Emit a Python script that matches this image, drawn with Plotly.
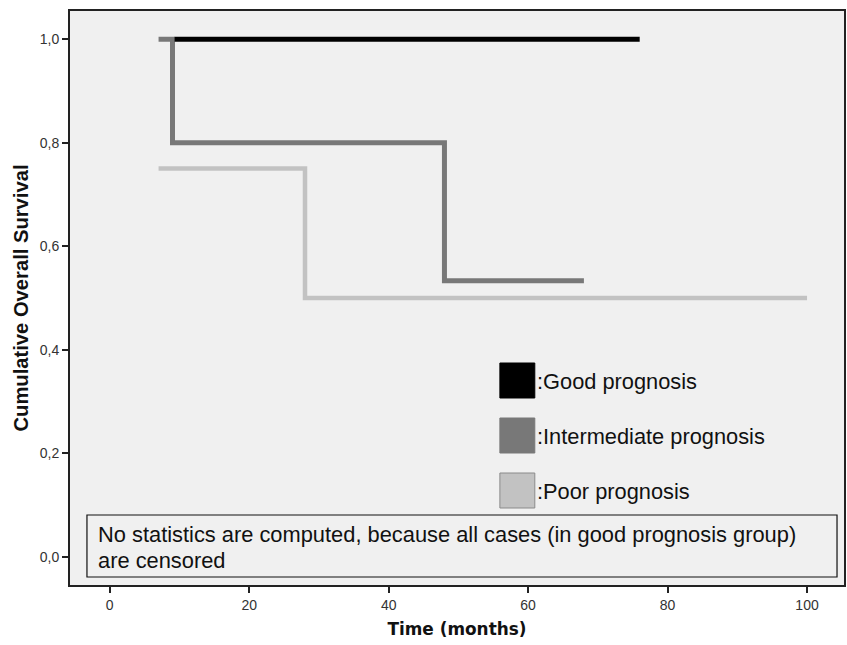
import plotly.graph_objects as go

# Kaplan-Meier step data (time in months, cumulative survival)
good_t = [9.3, 76]
good_s = [1.0, 1.0]

inter_t = [7, 9, 9, 48, 48, 68]
inter_s = [1.0, 1.0, 0.8, 0.8, 0.533, 0.533]

poor_t = [7, 28, 28, 100]
poor_s = [0.75, 0.75, 0.5, 0.5]

y_ticks = [0.0, 0.2, 0.4, 0.6, 0.8, 1.0]
y_ticklabels = ["0,0", "0,2", "0,4", "0,6", "0,8", "1,0"]
x_ticks = [0, 20, 40, 60, 80, 100]

legend_names = [":Good prognosis", ":Intermediate prognosis", ":Poor prognosis"]
legend_colors = ["#000000", "#787878", "#c2c2c2"]

note_lines = ["No statistics are computed, because all cases (in good prognosis group)",
              "are censored"]

fig = go.Figure()
fig.add_trace(go.Scatter(x=poor_t, y=poor_s, mode="lines",
                         line=dict(color="#c2c2c2", width=4.5), showlegend=False))
fig.add_trace(go.Scatter(x=inter_t, y=inter_s, mode="lines",
                         line=dict(color="#787878", width=5), showlegend=False))
fig.add_trace(go.Scatter(x=good_t, y=good_s, mode="lines",
                         line=dict(color="#000000", width=5), showlegend=False))

W, H = 847, 645
L, R, T, B = 70, 1, 11, 60
pw, ph = W - L - R, H - T - B

def px(xp):
    return (xp - L) / pw

def py(yp):
    return 1 - (yp - T) / ph

FONT = "Liberation Sans, Arial, sans-serif"
shapes = []
annotations = []
legend_y = [380.5, 435.5, 490.5]
for name, col, yc in zip(legend_names, legend_colors, legend_y):
    shapes.append(dict(type="rect", xref="paper", yref="paper",
                       x0=px(501), x1=px(536), y0=py(yc + 17.5), y1=py(yc - 17.5),
                       fillcolor=col,
                       line=dict(color="#8a8a8a" if col == "#c2c2c2" else col, width=1)))
    annotations.append(dict(text=name, xref="paper", yref="paper", x=px(536), y=py(yc + 1),
                            xanchor="left", yanchor="middle", showarrow=False,
                            font=dict(family=FONT, size=21.8, color="#111")))

# note box
shapes.append(dict(type="rect", xref="paper", yref="paper",
                   x0=px(87), x1=px(839), y0=py(577), y1=py(515),
                   fillcolor="rgba(0,0,0,0)", line=dict(color="#111", width=1.2)))
for txt, yc in zip(note_lines, [534.5, 560.5]):
    annotations.append(dict(
        text=txt, xref="paper", yref="paper", x=px(96), y=py(yc), xanchor="left",
        yanchor="middle", align="left", showarrow=False,
        font=dict(family=FONT, size=21.85, color="#111")))

fig.update_layout(
    width=W, height=H,
    margin=dict(l=L, r=R, t=T, b=B),
    paper_bgcolor="white", plot_bgcolor="#f0f0f0",
    shapes=shapes, annotations=annotations,
    font=dict(family=FONT, color="#222"),
)
fig.update_xaxes(range=[-5.7, 105.3], tickvals=x_ticks, ticks="outside", ticklen=6, tickwidth=2,
                 tickcolor="#222", showgrid=False, zeroline=False,
                 showline=True, linecolor="#222", linewidth=2, mirror=True,
                 tickfont=dict(family=FONT, size=14, color="#333"),
                 title=dict(text="<b>Time (months)</b>",
                            font=dict(family="DejaVu Sans, Verdana, sans-serif", size=16.9, color="#111"),
                            standoff=11))
fig.update_yaxes(range=[-0.0547, 1.0545], tickvals=y_ticks, ticktext=y_ticklabels, ticks="outside",
                 ticklen=6, tickwidth=2, tickcolor="#222", showgrid=False, zeroline=False,
                 showline=True, linecolor="#222", linewidth=2, mirror=True,
                 tickfont=dict(family=FONT, size=14, color="#333"),
                 title=dict(text="<b>Cumulative Overall Survival</b>",
                            font=dict(family=FONT, size=20.2, color="#111"), standoff=6))

fig.write_html("out.html", config={"displayModeBar": False},
               post_script="document.body.style.margin='0';document.body.style.overflow='hidden';")
